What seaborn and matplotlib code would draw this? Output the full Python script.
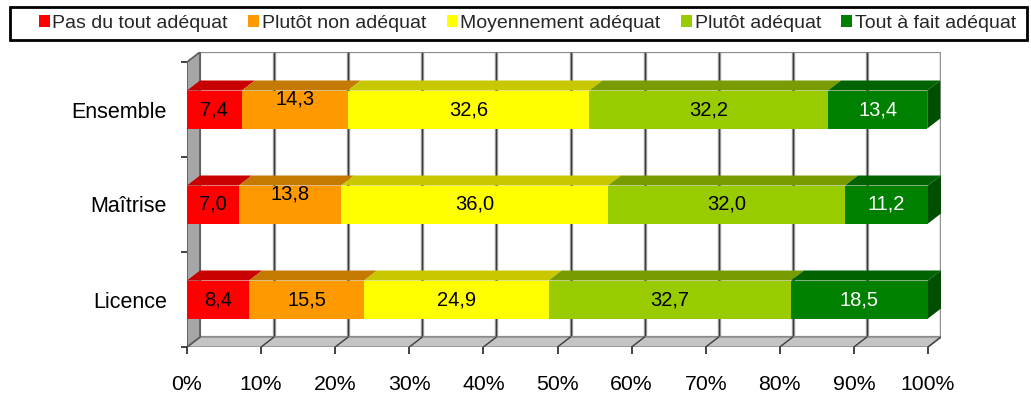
import matplotlib
matplotlib.use("Agg")
import numpy as np
import pandas as pd
import matplotlib.pyplot as plt
from matplotlib.patches import Polygon, Patch, Rectangle
import seaborn as sns

# ---- data -------------------------------------------------------------
categories = ["Ensemble", "Maîtrise", "Licence"]
levels = ["Pas du tout adéquat", "Plutôt non adéquat", "Moyennement adéquat",
          "Plutôt adéquat", "Tout à fait adéquat"]
pas_du_tout = [7.4, 7.0, 8.4]
plutot_non = [14.3, 13.8, 15.5]
moyennement = [32.6, 36.0, 24.9]
plutot = [32.2, 32.0, 32.7]
tout_a_fait = [13.4, 11.2, 18.5]
x_ticks = [0, 10, 20, 30, 40, 50, 60, 70, 80, 90, 100]
x_tick_labels = ["0%", "10%", "20%", "30%", "40%", "50%", "60%", "70%", "80%", "90%", "100%"]

# ---- style ------------------------------------------------------------
front_colors = ["#ff0000", "#ff9900", "#ffff00", "#99cc00", "#008000"]
top_colors = ["#c80000", "#c47a00", "#c8c800", "#789c00", "#006200"]
side_color = "#004e00"
text_colors = ["black", "black", "black", "black", "white"]

sns.set_theme(style="white")
plt.rcParams["font.family"] = ["Liberation Sans", "DejaVu Sans"]

W, H, DPI = 1031, 396, 100
fig = plt.figure(figsize=(W / DPI, H / DPI), dpi=DPI)

# front plane: 0% at x=187px, 741px for 100%; categories 95px apart
px_per_unit_x = 7.41
px_per_cat = 95.0
depth_px_x, depth_px_y = 13, 10
DX = depth_px_x / px_per_unit_x
DY = depth_px_y / px_per_cat

ax_left, ax_bottom = 187, 49
ax_w = 100 * px_per_unit_x + depth_px_x
ax_h = 3 * px_per_cat + depth_px_y
ax = fig.add_axes([ax_left / W, ax_bottom / H, ax_w / W, ax_h / H])

series = [pas_du_tout, plutot_non, moyennement, plutot, tout_a_fait]
vals = np.array(series)              # shape (levels, categories)
ends = np.cumsum(vals, axis=0)
starts = ends - vals

df = pd.DataFrame({
    "categorie": np.tile(categories, len(levels)),
    "niveau": np.repeat(levels, len(categories)),
    "fin": ends.ravel(),
})

BAR_H = 0.4
# stacked bars: draw cumulative totals from the outermost level inward
for i in range(len(levels) - 1, -1, -1):
    sub = df[df["niveau"] == levels[i]]
    sns.barplot(data=sub, x="fin", y="categorie", order=categories, orient="h",
                color=front_colors[i], saturation=1, width=BAR_H,
                edgecolor="none", linewidth=0, ax=ax, zorder=2)

ax.set_xlim(0, 100 + DX)
ax.set_ylim(2.5, -0.5 - DY)

# ---- 3-D box: back wall, left wall, floor ------------------------------
y_top, y_bot = -0.5, 2.5
ax.add_patch(Polygon([(DX, y_top - DY), (100 + DX, y_top - DY),
                      (100 + DX, y_bot - DY), (DX, y_bot - DY)],
                     closed=True, facecolor="white", edgecolor="#8a8a8a",
                     linewidth=1.6, zorder=0.2))
for t in x_ticks[1:]:
    ax.plot([t + DX, t + DX], [y_top - DY, y_bot - DY], color="#a0a0a0",
            linewidth=2.4, zorder=0.3, solid_capstyle="butt")
    ax.plot([t + DX, t + DX], [y_top - DY, y_bot - DY], color="#3c3c3c",
            linewidth=0.9, zorder=0.35, solid_capstyle="butt")
ax.add_patch(Polygon([(0, y_bot), (100, y_bot), (100 + DX, y_bot - DY), (DX, y_bot - DY)],
                     closed=True, facecolor="#c4c4c4", edgecolor="#8a8a8a",
                     linewidth=1.0, zorder=0.5))
for t in x_ticks:
    ax.plot([t, t + DX], [y_bot, y_bot - DY], color="#3c3c3c", linewidth=1.0,
            zorder=0.6)
ax.add_patch(Polygon([(0, y_bot), (0, y_top), (DX, y_top - DY), (DX, y_bot - DY)],
                     closed=True, facecolor="#a6a6a6", edgecolor="#5a5a5a",
                     linewidth=1.2, zorder=0.7))

# ---- 3-D faces of the bars ---------------------------------------------
for i in range(len(levels)):
    for j in range(len(categories)):
        x0, x1 = starts[i, j], ends[i, j]
        yt, yb = j - BAR_H / 2, j + BAR_H / 2
        ax.add_patch(Polygon([(x0, yt), (x1, yt), (x1 + DX, yt - DY), (x0 + DX, yt - DY)],
                             closed=True, facecolor=top_colors[i], edgecolor="none",
                             zorder=2.5))
        if i == len(levels) - 1:
            ax.add_patch(Polygon([(x1, yt), (x1, yb), (x1 + DX, yb - DY), (x1 + DX, yt - DY)],
                                 closed=True, facecolor=side_color, edgecolor="none",
                                 zorder=2.5))

# ---- value labels ------------------------------------------------------
label_lift = {(1, 0): 0.11, (1, 1): 0.11}
for i in range(len(levels)):
    for j in range(len(categories)):
        v = vals[i, j]
        xc = starts[i, j] + v / 2
        yc = j - label_lift.get((i, j), 0.0)
        ax.text(xc, yc, f"{v:.1f}".replace(".", ","), ha="center", va="center",
                fontsize=14.5, color=text_colors[i], zorder=4)

# ---- axes, ticks ---------------------------------------------------------
for s in ax.spines.values():
    s.set_visible(False)
ax.set_xlabel("")
ax.set_ylabel("")
ax.set_xticks(x_ticks, x_tick_labels)
ax.set_yticks([0, 1, 2], categories)
ax.set_yticks([-0.5, 0.5, 1.5, 2.5], minor=True)
ax.tick_params(axis="x", which="major", direction="out", length=5, width=1.2,
               color="#222222", pad=15, labelsize=15.3, labelcolor="black", bottom=True)
ax.tick_params(axis="y", which="major", length=0, pad=14.5, labelsize=15.5, labelcolor="black")
ax.tick_params(axis="y", which="minor", direction="out", length=4, width=1.2,
               color="#222222", left=True)
ax.patch.set_alpha(0)

# ---- legend -------------------------------------------------------------
fig.add_artist(Rectangle((10 / W, 1 - 40 / H), 1017 / W, 33 / H,
                         transform=fig.transFigure, facecolor="white",
                         edgecolor="black", linewidth=2, zorder=1))
handles = [Patch(facecolor=c, edgecolor="none") for c in front_colors]
leg = fig.legend(handles, levels, loc="center left",
                 bbox_to_anchor=(33 / W, 1 - 23.5 / H),
                 ncol=5, frameon=False,
                 handlelength=0.55, handleheight=0.55, handletextpad=0.15,
                 columnspacing=1.05, borderpad=0.3, borderaxespad=0, fontsize=14)
leg.set_zorder(2)

fig.savefig("out.png", dpi=DPI, facecolor="white")
